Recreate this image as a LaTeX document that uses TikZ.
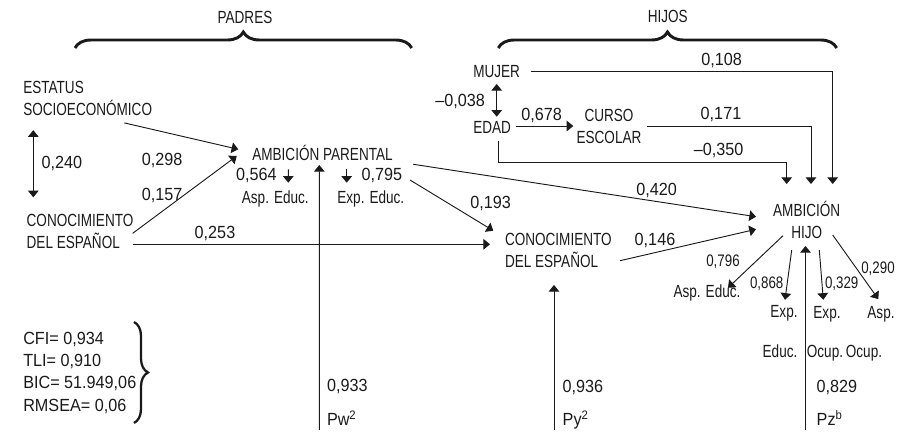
\documentclass[tikz,border=0pt]{standalone}
\usepackage{fontspec}
\setmainfont{Liberation Sans}[FakeStretch=0.77]
\newfontfamily\numf{Liberation Sans}[FakeStretch=0.92]
\newfontfamily\smf{Liberation Sans}[FakeStretch=0.8]
\usetikzlibrary{arrows.meta,decorations.pathreplacing}
\definecolor{ink}{HTML}{1A1A1A}
\begin{document}
\begin{tikzpicture}[x=0.75pt,y=-0.75pt,
  txt/.style={inner sep=0pt,outer sep=0pt,text=ink,font=\fontsize{13.2}{16.5}\selectfont},
  num/.style={txt,font=\fontsize{13.2}{16.5}\selectfont\numf},
  snum/.style={txt,font=\fontsize{12.5}{14}\selectfont\smf},
  ml/.style={txt,align=left},
  mc/.style={txt,align=center},
  conn/.style={draw=ink,line width=0.7pt},
  arr/.style={conn,-{Triangle[width=8pt,length=5pt]}},
  darr/.style={conn,{Triangle[width=8pt,length=5pt]}-{Triangle[width=8pt,length=5pt]}},
  bigbrace/.style={draw=ink,decorate,decoration={brace,amplitude=12pt},line width=2.2pt},
  fitbrace/.style={draw=ink,decorate,decoration={brace,amplitude=10.5pt},line width=1.7pt}]
\useasboundingbox (0,0) rectangle (897,434);

% group headings
\node[txt,anchor=base] (padres) at (245,23.5) {PADRES};
\node[txt,anchor=base] (hijos) at (667.8,23) {HIJOS};
\draw[bigbrace] (75,48) -- (411.7,48);
\draw[bigbrace] (498.3,48) -- (836.7,48);

% parents block
\node[ml,anchor=west] (estatus) at (23.3,98.2) {ESTATUS\\SOCIOECONÓMICO};
\node[ml,anchor=west] (conoc1) at (26.7,231.7) {CONOCIMIENTO\\DEL ESPAÑOL};
\node[txt,anchor=base] (ambp) at (322.5,160.3) {AMBICIÓN PARENTAL};
\node[num,anchor=base west] (n564) at (236,180.3) {0,564};
\node[num,anchor=base west] (n795) at (361.7,180.3) {0,795};
\node[txt,anchor=base] (asp1) at (275.3,203.5) {Asp. Educ.};
\node[txt,anchor=base] (exp1) at (370.8,203.5) {Exp. Educ.};
\node[num,anchor=base west] (n240) at (41.7,169) {0,240};
\node[num,anchor=base] (n298) at (162.2,165.5) {0,298};
\node[num,anchor=base] (n157) at (162.2,200.5) {0,157};
\node[num,anchor=base] (n253) at (215,238.5) {0,253};

% children block
\node[txt,anchor=base west] (mujer) at (473.3,78) {MUJER};
\node[txt,anchor=base west] (edad) at (473.3,133.5) {EDAD};
\node[mc] (curso) at (609,126) {CURSO\\ESCOLAR};
\node[num,anchor=base east] (n038) at (485,106.3) {–0,038};
\node[num,anchor=base] (n678) at (541.7,120.3) {0,678};
\node[num,anchor=base] (n108) at (721.7,65.5) {0,108};
\node[num,anchor=base] (n171) at (721,119.5) {0,171};
\node[num,anchor=base] (n350) at (718.7,155.5) {–0,350};
\node[num,anchor=base] (n420) at (656.7,195.5) {0,420};
\node[num,anchor=base] (n193) at (490.7,209) {0,193};
\node[num,anchor=base] (n146) at (655,245.3) {0,146};
\node[ml,anchor=west] (conoc2) at (505,250.3) {CONOCIMIENTO\\DEL ESPAÑOL};
\node[mc] (ambh) at (806.7,220) {AMBICIÓN\\HIJO};

% indicators of child ambition
\node[txt,anchor=base] (asp2) at (707,298) {Asp. Educ.};
\node[snum,anchor=base] (n796) at (723,266.5) {0,796};
\node[snum,anchor=base] (n868) at (766.7,289) {0,868};
\node[snum,anchor=base] (n329) at (841.7,288.8) {0,329};
\node[snum,anchor=base] (n290) at (878,273.8) {0,290};
\node[txt,anchor=base] (exph1) at (784,318) {Exp.};
\node[txt,anchor=base] (exph2) at (827,318.3) {Exp.};
\node[txt,anchor=base] (asph) at (881,318.3) {Asp.};
\node[txt,anchor=base] (educh) at (780,358) {Educ.};
\node[txt,anchor=base] (ocup1) at (825,358) {Ocup.};
\node[txt,anchor=base] (ocup2) at (864,358) {Ocup.};

% residuals
\node[num,anchor=base west] (n933) at (327,392) {0,933};
\node[num,anchor=base west] (n936) at (562.7,392.5) {0,936};
\node[num,anchor=base west] (n829) at (816.7,392.5) {0,829};
\node[num,anchor=base west] (pw) at (327,425.5) {Pw\textsuperscript{2}};
\node[num,anchor=base west] (py) at (562.7,425.5) {Py\textsuperscript{2}};
\node[num,anchor=base west] (pz) at (816.7,425.5) {Pz\textsuperscript{b}};
\coordinate (pwb) at (319.3,430);
\coordinate (pyb) at (554,430);
\coordinate (pzb) at (805.5,430);

% fit statistics
\node[ml,anchor=west,font=\fontsize{13.2}{16.65}\selectfont\numf] (fit) at (23.3,372.7)
  {CFI= 0,934\\TLI= 0,910\\BIC= 51.949,06\\RMSEA= 0,06};
\draw[fitbrace] (134,322) -- (134,423);

% connectors: parents
\draw[arr] ([shift={(101,24.7)}]estatus.west) -- ([shift={(-84.2,-11)}]ambp.base);
\draw[arr] ([shift={(106,1.6)}]conoc1.west) -- ([shift={(-85.8,-4.3)}]ambp.base);
\draw[darr] ([shift={(10,32)}]estatus.west) -- ([shift={(6.6,-34.4)}]conoc1.west);
\draw[arr] ([shift={(106,12.6)}]conoc1.west) -- ([shift={(-15,-6)}]conoc2.west);
\draw[arr] ([shift={(-34.2,9)}]ambp.base) -- ([shift={(13,-20.8)}]asp1.base);
\draw[arr] ([shift={(24.2,9)}]ambp.base) -- ([shift={(-24.1,-20.8)}]exp1.base);
\draw[arr] (pwb) -- ([shift={(-3.2,4.7)}]ambp.base);
\draw[arr] ([shift={(90.8,4)}]ambp.base) -- ([shift={(-50.7,-3.3)}]ambh.center);
\draw[arr] ([shift={(87.5,19.7)}]ambp.base) -- ([shift={(-11.7,-19.6)}]conoc2.west);
\draw[arr] ([shift={(115,10.4)}]conoc2.west) -- ([shift={(-50.7,9.3)}]ambh.center);
\draw[arr] (pyb) -- ([shift={(49,34.7)}]conoc2.west);

% connectors: children
\draw[arr] ([shift={(57.4,-6.3)}]mujer.base west) -| ([shift={(26,-36)}]ambh.center);
\draw[darr] ([shift={(23.4,6)}]mujer.base west) -- ([shift={(23.4,-16.8)}]edad.base west);
\draw[arr] ([shift={(42.7,-7.5)}]edad.base west) -- ([shift={(-35.7,0)}]curso.center);
\draw[arr] ([shift={(38.3,0)}]curso.center) -| ([shift={(4.3,-36)}]ambh.center);
\draw[arr] ([shift={(25,7.2)}]edad.base west) -- ++(0,22) -| ([shift={(-20,-36)}]ambh.center);

% connectors: child ambition indicators
\draw[arr] ([shift={(-23.7,15.7)}]ambh.center) -- ([shift={(21,-10.2)}]asp2.base);
\draw[arr] ([shift={(-15,30)}]ambh.center) -- ([shift={(1,-18.2)}]exph1.base);
\draw[arr] ([shift={(12.6,30)}]ambh.center) -- ([shift={(-3.7,-18.5)}]exph2.base);
\draw[arr] ([shift={(26,15)}]ambh.center) -- ([shift={(-2.7,-19.2)}]asph.base);
\draw[arr] (pzb) -- ([shift={(-1.2,26)}]ambh.center);
\end{tikzpicture}
\end{document}
